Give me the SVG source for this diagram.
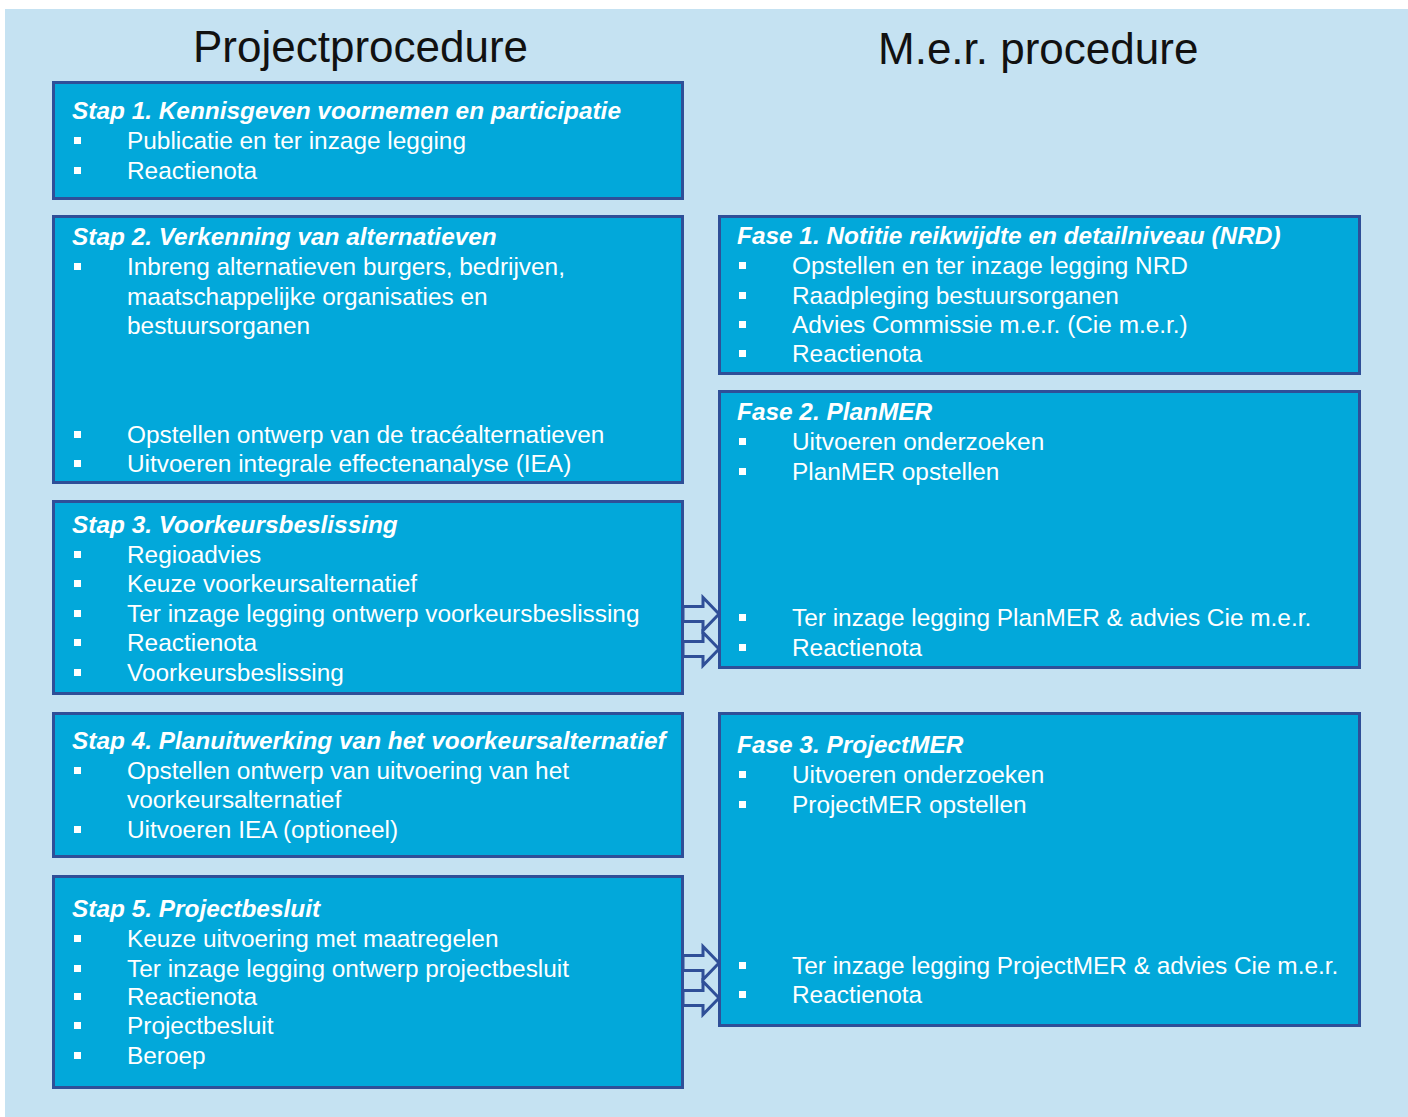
<svg xmlns="http://www.w3.org/2000/svg" width="1408" height="1117" viewBox="0 0 1408 1117">
<defs>
<style>
.box{fill:#02A8DA;stroke:#2F4F98;stroke-width:3}
.t{font-family:"Liberation Sans",Arial,sans-serif;font-size:24.4px;fill:#FFFFFF}
.h{font-family:"Liberation Sans",Arial,sans-serif;font-size:24.4px;fill:#FFFFFF;font-weight:bold;font-style:italic}
.title{font-family:"Liberation Sans",Arial,sans-serif;font-size:44px;fill:#111111}
.b{fill:#FFFFFF}
.arrow{fill:#C5E2F2;stroke:#2F4F98;stroke-width:3;stroke-linejoin:miter}
</style>
<rect id="bul" width="7" height="7" class="b"/>
<path id="arr" class="arrow" d="M683,-7.5 H703 V-16.5 L719,0 L703,16.5 V7.5 H683 Z"/>
</defs>
<rect x="0" y="0" width="1408" height="1117" fill="#FFFFFF"/>
<rect x="5" y="9" width="1403" height="1108" fill="#C5E2F2"/>

<text class="title" x="193" y="62">Projectprocedure</text>
<text class="title" x="878" y="64">M.e.r. procedure</text>

<g id="stap1">
<rect class="box" x="53.5" y="82.5" width="629" height="116"/>
<text class="h" x="72" y="119">Stap 1. Kennisgeven voornemen en participatie</text>
<use href="#bul" x="74" y="137"/><text class="t" x="127" y="149">Publicatie en ter inzage legging</text>
<use href="#bul" x="74" y="167"/><text class="t" x="127" y="179">Reactienota</text>
</g>

<g id="stap2">
<rect class="box" x="53.5" y="216.5" width="629" height="266"/>
<text class="h" x="72" y="245">Stap 2. Verkenning van alternatieven</text>
<use href="#bul" x="74" y="263"/><text class="t" x="127" y="275">Inbreng alternatieven burgers, bedrijven,</text>
<text class="t" x="127" y="305">maatschappelijke organisaties en</text>
<text class="t" x="127" y="334">bestuursorganen</text>
<use href="#bul" x="74" y="431"/><text class="t" x="127" y="443">Opstellen ontwerp van de tracéalternatieven</text>
<use href="#bul" x="74" y="460"/><text class="t" x="127" y="472">Uitvoeren integrale effectenanalyse (IEA)</text>
</g>

<g id="stap3">
<rect class="box" x="53.5" y="501.5" width="629" height="192"/>
<text class="h" x="72" y="533">Stap 3. Voorkeursbeslissing</text>
<use href="#bul" x="74" y="551"/><text class="t" x="127" y="563">Regioadvies</text>
<use href="#bul" x="74" y="580"/><text class="t" x="127" y="592">Keuze voorkeursalternatief</text>
<use href="#bul" x="74" y="610"/><text class="t" x="127" y="622">Ter inzage legging ontwerp voorkeursbeslissing</text>
<use href="#bul" x="74" y="639"/><text class="t" x="127" y="651">Reactienota</text>
<use href="#bul" x="74" y="669"/><text class="t" x="127" y="681">Voorkeursbeslissing</text>
</g>

<g id="stap4">
<rect class="box" x="53.5" y="713.5" width="629" height="143"/>
<text class="h" x="72" y="749">Stap 4. Planuitwerking van het voorkeursalternatief</text>
<use href="#bul" x="74" y="767"/><text class="t" x="127" y="779">Opstellen ontwerp van uitvoering van het</text>
<text class="t" x="127" y="808">voorkeursalternatief</text>
<use href="#bul" x="74" y="826"/><text class="t" x="127" y="838">Uitvoeren IEA (optioneel)</text>
</g>

<g id="stap5">
<rect class="box" x="53.5" y="876.5" width="629" height="211"/>
<text class="h" x="72" y="917">Stap 5. Projectbesluit</text>
<use href="#bul" x="74" y="935"/><text class="t" x="127" y="947">Keuze uitvoering met maatregelen</text>
<use href="#bul" x="74" y="965"/><text class="t" x="127" y="977">Ter inzage legging ontwerp projectbesluit</text>
<use href="#bul" x="74" y="993"/><text class="t" x="127" y="1005">Reactienota</text>
<use href="#bul" x="74" y="1022"/><text class="t" x="127" y="1034">Projectbesluit</text>
<use href="#bul" x="74" y="1052"/><text class="t" x="127" y="1064">Beroep</text>
</g>

<g id="fase1">
<rect class="box" x="719.5" y="216.5" width="640" height="157"/>
<text class="h" x="737" y="244">Fase 1. Notitie reikwijdte en detailniveau (NRD)</text>
<use href="#bul" x="739" y="262"/><text class="t" x="792" y="274">Opstellen en ter inzage legging NRD</text>
<use href="#bul" x="739" y="292"/><text class="t" x="792" y="304">Raadpleging bestuursorganen</text>
<use href="#bul" x="739" y="321"/><text class="t" x="792" y="333">Advies Commissie m.e.r. (Cie m.e.r.)</text>
<use href="#bul" x="739" y="350"/><text class="t" x="792" y="362">Reactienota</text>
</g>

<g id="fase2">
<rect class="box" x="719.5" y="391.5" width="640" height="276"/>
<text class="h" x="737" y="420">Fase 2. PlanMER</text>
<use href="#bul" x="739" y="438"/><text class="t" x="792" y="450">Uitvoeren onderzoeken</text>
<use href="#bul" x="739" y="468"/><text class="t" x="792" y="480">PlanMER opstellen</text>
<use href="#bul" x="739" y="614"/><text class="t" x="792" y="626">Ter inzage legging PlanMER &amp; advies Cie m.e.r.</text>
<use href="#bul" x="739" y="644"/><text class="t" x="792" y="656">Reactienota</text>
</g>

<g id="fase3">
<rect class="box" x="719.5" y="713.5" width="640" height="312"/>
<text class="h" x="737" y="753">Fase 3. ProjectMER</text>
<use href="#bul" x="739" y="771"/><text class="t" x="792" y="783">Uitvoeren onderzoeken</text>
<use href="#bul" x="739" y="801"/><text class="t" x="792" y="813">ProjectMER opstellen</text>
<use href="#bul" x="739" y="962"/><text class="t" x="792" y="974">Ter inzage legging ProjectMER &amp; advies Cie m.e.r.</text>
<use href="#bul" x="739" y="991"/><text class="t" x="792" y="1003">Reactienota</text>
</g>

<g id="connectors">
<use href="#arr" x="0" y="614"/>
<use href="#arr" x="0" y="649"/>
<use href="#arr" x="0" y="963"/>
<use href="#arr" x="0" y="998"/>
</g>
</svg>
